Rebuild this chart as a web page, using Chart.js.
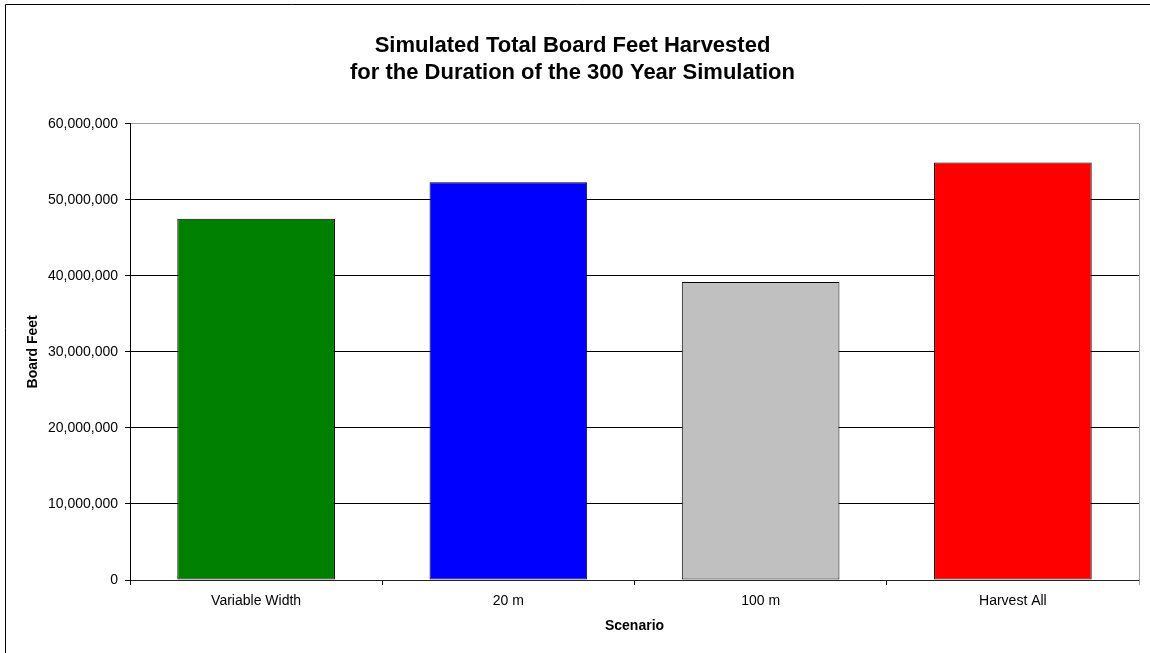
<!DOCTYPE html>
<html>
<head>
<meta charset="utf-8">
<title>Simulated Total Board Feet Harvested</title>
<script src="https://cdn.jsdelivr.net/npm/chart.js@4.4.1/dist/chart.umd.min.js"></script>
<style>
  html, body { margin: 0; padding: 0; background: #ffffff; }
  #wrap { position: relative; width: 1150px; height: 653px; }
</style>
</head>
<body>
<div id="wrap"><canvas id="chart" width="1150" height="653"></canvas></div>
<script>
// Harvest scenarios and the total board feet cut over the 300-year run
const scenarios = ['Variable Width', '20 m', '100 m', 'Harvest All'];
const boardFeet = [47500000, 52300000, 39200000, 54900000];
const barColors = ['#008000', '#0000FF', '#C0C0C0', '#FF0000'];

const titleLines = ['Simulated Total Board Feet Harvested', 'for the Duration of the 300 Year Simulation'];
const yAxisTitle = 'Board Feet';
const xAxisTitle = 'Scenario';
const yMax = 60000000;
const yStep = 10000000;

const FONT = "'Liberation Sans', Arial, sans-serif";

// Outer frame of the chart and the grey right edge of the plot area
const framePlugin = {
  id: 'frame',
  afterDraw(chart) {
    const { ctx, chartArea } = chart;
    ctx.save();
    ctx.strokeStyle = '#000000';
    ctx.lineWidth = 1;
    ctx.beginPath();
    ctx.moveTo(5.5, 653);
    ctx.lineTo(5.5, 4.5);
    ctx.lineTo(1150, 4.5);
    ctx.stroke();
    ctx.strokeStyle = '#a0a0a0';
    ctx.beginPath();
    const rx = Math.round(chartArea.right) + 0.5;
    ctx.moveTo(rx, Math.round(chartArea.top));
    ctx.lineTo(rx, Math.round(chartArea.bottom) + 5);
    ctx.stroke();
    ctx.restore();
  }
};

new Chart(document.getElementById('chart'), {
  type: 'bar',
  data: {
    labels: scenarios,
    datasets: [{
      data: boardFeet,
      backgroundColor: barColors,
      borderColor: '#000000',
      borderWidth: 1,
      borderSkipped: false,
      categoryPercentage: 1.0,
      barPercentage: 0.625
    }]
  },
  options: {
    responsive: false,
    animation: false,
    devicePixelRatio: 1,
    layout: { padding: { left: 6, right: 11, top: 0, bottom: 0 } },
    plugins: {
      legend: { display: false },
      tooltip: { enabled: false },
      title: {
        display: true,
        text: titleLines,
        color: '#000000',
        font: { family: FONT, size: 22, weight: 'bold', lineHeight: 1.2 },
        padding: { top: 33, bottom: 38 }
      }
    },
    scales: {
      x: {
        grid: {
          display: true,
          drawOnChartArea: false,
          drawTicks: true,
          tickLength: 5,
          offset: true,
          color: '#000000',
          tickColor: '#000000'
        },
        border: { display: true, color: '#222222', width: 1 },
        ticks: {
          color: '#000000',
          padding: 8,
          font: { family: FONT, size: 14 }
        },
        title: {
          display: true,
          text: xAxisTitle,
          color: '#000000',
          font: { family: FONT, size: 14, weight: 'bold' },
          padding: { top: 4, bottom: 18 }
        },
        afterFit(scale) { scale.height = 73; }
      },
      y: {
        min: 0,
        max: yMax,
        grid: {
          drawTicks: true,
          tickLength: 5,
          color: (c) => (c.tick && c.tick.value === yMax ? '#a0a0a0' : '#000000'),
          tickColor: '#000000'
        },
        border: { display: true, color: '#000000', width: 1 },
        ticks: {
          stepSize: yStep,
          color: '#000000',
          padding: 7,
          font: { family: FONT, size: 14 },
          callback: (v) => Number(v).toLocaleString('en-US')
        },
        title: {
          display: true,
          text: yAxisTitle,
          color: '#000000',
          font: { family: FONT, size: 14, weight: 'bold' },
          padding: { top: 19, bottom: 0 }
        },
        afterFit(scale) { scale.width = 124; }
      }
    }
  },
  plugins: [framePlugin]
});
</script>
</body>
</html>
